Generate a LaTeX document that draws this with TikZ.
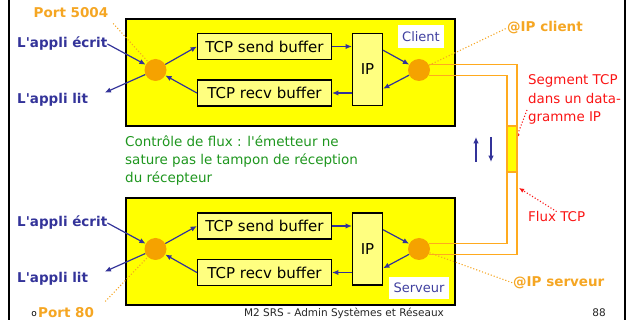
\documentclass[tikz,border=0pt]{standalone}
\usepackage{fontspec}
\setmainfont{DejaVu Sans}
\usetikzlibrary{arrows.meta,positioning,calc}
\pgfdeclarelayer{front}
\pgfsetlayers{main,front}
\definecolor{hostyellow}{RGB}{255,255,0}
\definecolor{bufyellow}{RGB}{255,255,128}
\definecolor{portorange}{RGB}{245,162,0}
\definecolor{lineorange}{RGB}{255,170,30}
\definecolor{labelorange}{RGB}{245,166,35}
\definecolor{appblue}{RGB}{51,51,153}
\definecolor{hostblue}{RGB}{64,64,160}
\definecolor{flowgreen}{RGB}{30,150,30}
\definecolor{notered}{RGB}{250,20,20}
\tikzset{
  host/.style={draw=black, fill=hostyellow, line width=1.6pt, minimum width=329pt, minimum height=107pt, inner sep=0pt},
  buffer/.style={draw=black, fill=bufyellow, line width=1.2pt, minimum width=134pt, minimum height=26pt, inner sep=0pt, font=\fontsize{15}{18}\selectfont},
  ipbox/.style={buffer, minimum width=30pt, minimum height=72pt},
  port/.style={circle, fill=portorange, minimum size=22pt, inner sep=0pt},
  hostname/.style={fill=white, text=hostblue, inner xsep=4.5pt, inner ysep=6pt, font=\fontsize{13}{15}\selectfont},
  applabel/.style={inner sep=0pt, text=appblue, font=\fontsize{13.5}{16}\selectfont\bfseries},
  orangelabel/.style={inner sep=0pt, text=labelorange, font=\fontsize{13.5}{16}\selectfont\bfseries},
  flownote/.style={inner sep=0pt, text=flowgreen, align=left, font=\fontsize{13.5}{18}\selectfont},
  rednote/.style={inner sep=0pt, text=notered, align=left, font=\fontsize{13.4}{18.5}\selectfont},
  footer/.style={inner sep=0pt, text=black!85, font=\fontsize{10.5}{12}\selectfont},
  arrow/.style={-{Latex[length=2.2mm,width=1.9mm]}, line width=1.2pt, draw=appblue},
  tcpline/.style={line width=1.3pt, draw=lineorange},
  dotline/.style={dotted, line width=1.1pt, draw=labelorange},
  reddot/.style={dotted, line width=1.1pt, draw=notered, -{Latex[length=1.8mm,width=1.6mm]}},
  segbox/.style={draw=lineorange, fill=hostyellow, line width=1.3pt, minimum width=10pt, minimum height=46pt, inner sep=0pt, outer sep=0pt}
}
\begin{document}
\begin{tikzpicture}[x=1pt, y=-1pt]
  \useasboundingbox (0,0) rectangle (633,320);
  % slide frame
  \draw[line width=2pt] (9,0) -- (9,320);
  \draw[line width=2pt] (624.5,0) -- (624.5,320);

  % client
  \node[host] (client) at (290.5,72.5) {};
  \node[buffer] (csend) at (264.5,46.5) {TCP send buffer};
  \node[buffer] (crecv) at (264.5,93) {TCP recv buffer};
  \node[ipbox] (cip) at (367.5,69.5) {IP};
  \node[port] (capp) at (155.5,70) {};
  \node[port] (cnet) at (419,70) {};
  \node[hostname] (cname) at (421,36.5) {Client};

  % server
  \node[host] (server) at (290.5,251.5) {};
  \node[buffer] (ssend) at (264.5,226) {TCP send buffer};
  \node[buffer] (srecv) at (264.5,272.5) {TCP recv buffer};
  \node[ipbox] (sip) at (367.5,249) {IP};
  \node[port] (sapp) at (155.5,249) {};
  \node[port] (snet) at (419,249) {};
  \node[hostname] (sname) at (419,288) {Serveur};

  % labels
  \node[applabel, anchor=west] (cwrite) at (17,44) {L\textquotesingle appli écrit};
  \node[applabel, anchor=west] (cread) at (17,100) {L\textquotesingle appli lit};
  \node[applabel, anchor=west] (swrite) at (17,223) {L\textquotesingle appli écrit};
  \node[applabel, anchor=west] (sread) at (17,279) {L\textquotesingle appli lit};
  \node[orangelabel] (p5004) at (71,13) {Port 5004};
  \node[orangelabel, anchor=west] (p80) at (38,313) {Port 80};
  \node[inner sep=0pt, anchor=east, font=\fontsize{9}{10}\selectfont] (bullet) at (37,314) {o};
  \node[orangelabel, anchor=west] (ipc) at (507,28) {@IP client};
  \node[orangelabel, anchor=west] (ips) at (513,283) {@IP serveur};
  \node[flownote, anchor=north west] (flow) at (125,135.5)
    {Contrôle de flux : l\textquotesingle émetteur ne\\sature pas le tampon de réception\\du récepteur};
  \node[rednote, anchor=north west] (segtxt) at (528,74.5) {Segment TCP\\dans un data-\\gramme IP};
  \node[rednote, anchor=west] (fluxtxt) at (528,217) {Flux TCP};
  \node[footer] (foot) at (344,313) {M2 SRS - Admin Systèmes et Réseaux};
  \node[footer] (page) at (599,313) {88};

  % TCP segment on the link
  \begin{pgfonlayer}{front}
    \node[segbox] (seg) at (512,149) {};
  \end{pgfonlayer}
  \draw[tcpline] (cnet.30) -| (seg.east) |- (snet.-30);
  \draw[tcpline] (cnet.-30) -| (seg.west) |- (snet.30);

  % data paths inside each host
  \foreach \h in {c,s} {
    \draw[arrow] (\h write.east) -- (\h app);
    \draw[arrow, shorten >=18pt] (\h app) -- (\h read.east);
    \draw[arrow] (\h app) -- (\h send.west);
    \draw[arrow] (\h recv.west) -- (\h app);
    \draw[arrow] (\h send.east) -- (\h send.east -| \h ip.west);
    \draw[arrow] (\h recv.east -| \h ip.west) -- (\h recv.east);
    \draw[arrow] (\h ip.51) -- (\h net);
    \draw[arrow] (\h net) -- (\h ip.-51);
  }

  % flow control arrows
  \coordinate (upfrom) at (476,162);
  \coordinate (upto) at (476,137);
  \coordinate (downfrom) at (491,137);
  \coordinate (downto) at (491,162);
  \draw[arrow] (upfrom) -- (upto);
  \draw[arrow] (downfrom) -- (downto);

  % callouts
  \draw[dotline, shorten <=7pt] (p5004.south east) -- (capp);
  \draw[dotline, shorten <=16pt] (p80.east) -- (sapp);
  \draw[dotline] (cnet) -- (ipc.west);
  \draw[dotline] (snet) -- (ips.west);
  \coordinate (segfrom) at (527,110);
  \coordinate (fluxpt) at (519,188);
  \draw[reddot, shorten >=-3pt] (segfrom) -- (seg);
  \draw[reddot] (fluxtxt.north) -- (fluxpt);
\end{tikzpicture}
\end{document}
